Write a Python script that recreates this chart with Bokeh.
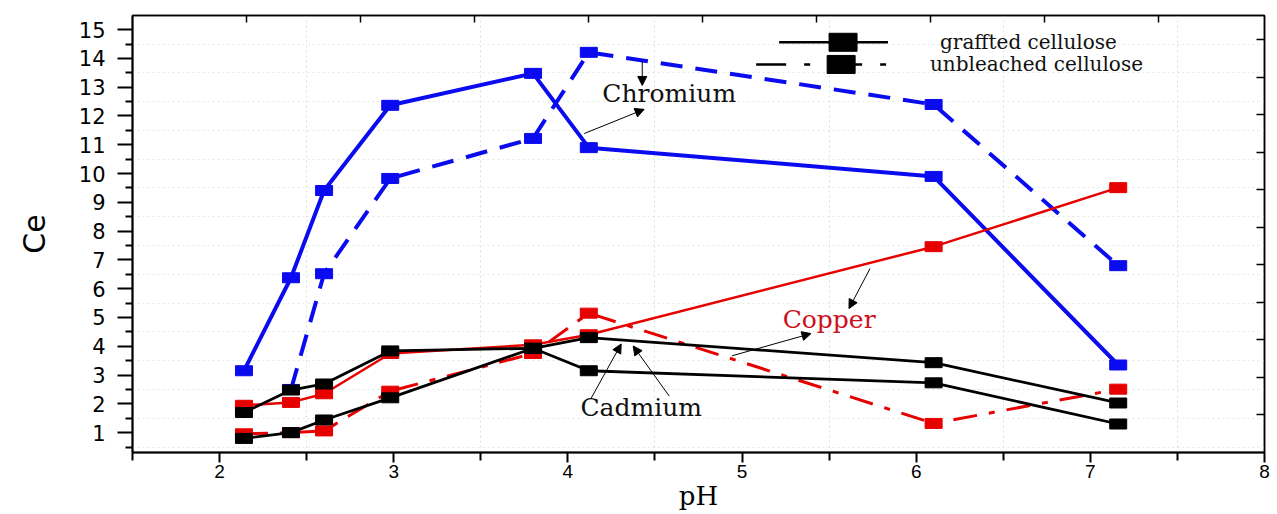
from bokeh.plotting import figure
from bokeh.models import Range1d, LinearAxis, FixedTicker, Arrow, NormalHead, Label
from bokeh.embed import file_html
from bokeh.resources import INLINE

# ---------------- data ----------------
ph = [2.14, 2.41, 2.60, 2.98, 3.80, 4.12, 6.10, 7.16]
cr_grafted = [3.15, 6.38, 9.41, 12.37, 13.48, 10.90, 9.90, 3.35]
ph_cr_unbl = [2.41, 2.60, 2.98, 3.80, 4.12, 6.10, 7.16]
cr_unbleached = [2.50, 6.52, 9.83, 11.22, 14.21, 12.40, 6.80]
cu_grafted = [1.95, 2.05, 2.35, 3.75, 4.05, 4.40, 7.46, 9.51]
cu_unbleached = [0.96, 1.00, 1.06, 2.44, 3.75, 5.15, 1.32, 2.51]
cd_grafted = [1.70, 2.48, 2.69, 3.84, 3.93, 3.15, 2.73, 1.30]
cd_unbleached = [0.80, 1.00, 1.44, 2.21, 3.93, 4.30, 3.43, 2.03]

x_ticks = [2, 3, 4, 5, 6, 7, 8]
x_minor = [1.5, 2.5, 3.5, 4.5, 5.5, 6.5, 7.5]
y_ticks = list(range(1, 16))
y_minor = [v + 0.5 for v in range(0, 16)]

legend_labels = ["graffted cellulose", "unbleached cellulose"]

BLUE = "#0b0bef"
RED = "#e60000"
BLACK = "#000000"

p = figure(width=1277, height=514, x_range=Range1d(1.5, 8), y_range=Range1d(0.31, 15.49),
           output_backend="svg", toolbar_location=None,
           min_border_left=132, min_border_right=13, min_border_top=15, min_border_bottom=62,
           background_fill_color="white", border_fill_color="white")

p.outline_line_color = "black"
p.outline_line_width = 1.5

xax = p.xaxis[0]
yax = p.yaxis[0]

# grids (minor, faint green dotted)
xax.ticker = FixedTicker(ticks=x_ticks, minor_ticks=x_minor)
yax.ticker = FixedTicker(ticks=y_ticks, minor_ticks=y_minor)
p.xgrid.grid_line_color = None
p.ygrid.grid_line_color = None
p.xgrid.minor_grid_line_color = "#cfe8cf"
p.xgrid.minor_grid_line_dash = "2 3"
p.ygrid.minor_grid_line_color = "#dfeadf"
p.ygrid.minor_grid_line_dash = "2 3"

# axes
for ax in (xax, yax):
    ax.axis_line_width = 2
    ax.major_tick_line_width = 2
    ax.minor_tick_line_width = 2
    ax.major_tick_in = 0
    ax.minor_tick_in = 0
    ax.axis_label_text_font_style = "normal"
    ax.axis_label_text_color = "black"
    ax.major_label_text_color = "black"

yax.major_tick_out = 15
yax.minor_tick_out = 7
yax.major_label_standoff = 12
yax.major_label_text_font = "DejaVu Sans"
yax.major_label_text_font_size = "21px"
yax.axis_label = "Ce"
yax.axis_label_text_font = "DejaVu Sans"
yax.axis_label_text_font_size = "30px"
yax.axis_label_standoff = 24

xax.major_tick_out = 10
xax.minor_tick_out = 8
xax.major_label_standoff = 2
xax.major_label_text_font = "Liberation Sans"
xax.major_label_text_font_size = "19px"
xax.axis_label = "pH"
xax.axis_label_text_font = "DejaVu Serif"
xax.axis_label_text_font_size = "26px"
xax.axis_label_standoff = 0

# right and top frame ticks (inward, unlabeled)
p.extra_y_ranges = {"r": Range1d(0, 11.65)}
p.extra_x_ranges = {"t": Range1d(0, 9.93)}
ra = LinearAxis(y_range_name="r", ticker=FixedTicker(ticks=[], minor_ticks=list(range(1, 12))),
                minor_tick_in=8, minor_tick_out=0, major_tick_in=0, major_tick_out=0,
                minor_tick_line_width=1.5, axis_line_width=1.5)
ta = LinearAxis(x_range_name="t", ticker=FixedTicker(ticks=[], minor_ticks=list(range(1, 10))),
                minor_tick_in=7, minor_tick_out=0, major_tick_in=0, major_tick_out=0,
                minor_tick_line_width=1.5, axis_line_width=1.5)
p.add_layout(ra, "right")
p.add_layout(ta, "above")

# ---------------- series ----------------
MW, MH = 17, 10
# chromium
p.line(ph_cr_unbl, cr_unbleached, line_color=BLUE, line_width=4, line_dash="22 13")
p.rect(ph_cr_unbl, cr_unbleached, width=MW, height=MH, width_units="screen", height_units="screen", color=BLUE)
p.line(ph, cr_grafted, line_color=BLUE, line_width=4)
p.rect(ph, cr_grafted, width=MW, height=MH, width_units="screen", height_units="screen", color=BLUE)
# copper
p.line(ph, cu_unbleached, line_color=RED, line_width=3, line_dash="24 12 6 12")
p.rect(ph, cu_unbleached, width=MW, height=MH, width_units="screen", height_units="screen", color=RED)
p.line(ph, cu_grafted, line_color=RED, line_width=2.5)
p.rect(ph, cu_grafted, width=MW, height=MH, width_units="screen", height_units="screen", color=RED)
# cadmium
p.line(ph, cd_unbleached, line_color=BLACK, line_width=2.8)
p.rect(ph, cd_unbleached, width=MW, height=MH, width_units="screen", height_units="screen", color=BLACK)
p.line(ph, cd_grafted, line_color=BLACK, line_width=2.8)
p.rect(ph, cd_grafted, width=MW, height=MH, width_units="screen", height_units="screen", color=BLACK)

# ---------------- legend (drawn) ----------------
leg_y = [14.56, 13.79]
p.line([5.213, 5.838], [leg_y[0], leg_y[0]], line_color=BLACK, line_width=2.5)
p.rect([5.580], [leg_y[0]], width=28, height=18, width_units="screen", height_units="screen", color=BLACK)
p.line([5.081, 5.930], [leg_y[1], leg_y[1]], line_color=BLACK, line_width=2.5, line_dash="30 18 6 22")
p.rect([5.569], [leg_y[1]], width=28, height=18, width_units="screen", height_units="screen", color=BLACK)
p.add_layout(Label(x=6.137, y=leg_y[0], text=legend_labels[0], text_font="DejaVu Serif",
                   text_font_size="20px", text_baseline="middle", text_color="#111111"))
p.add_layout(Label(x=6.079, y=leg_y[1], text=legend_labels[1], text_font="DejaVu Serif",
                   text_font_size="20px", text_baseline="middle", text_color="#111111"))

# ---------------- annotations ----------------
def arrow(x0, y0, x1, y1):
    p.add_layout(Arrow(end=NormalHead(size=9, fill_color="black", line_color="black"),
                       x_start=x0, y_start=y0, x_end=x1, y_end=y1,
                       line_color="black", line_width=1))

p.add_layout(Label(x=4.582, y=12.78, text="Chromium", text_font="DejaVu Serif", text_font_size="25px",
                   text_align="center", text_baseline="middle", text_color="#111111"))
arrow(4.427, 13.90, 4.427, 13.06)
arrow(4.094, 11.39, 4.438, 12.23)

p.add_layout(Label(x=5.50, y=4.92, text="Copper", text_font="DejaVu Serif", text_font_size="25px",
                   text_align="center", text_baseline="middle", text_color="#cc1020"))
arrow(5.735, 6.70, 5.614, 5.31)
arrow(4.943, 3.67, 5.396, 4.44)

p.add_layout(Label(x=4.421, y=1.89, text="Cadmium", text_font="DejaVu Serif", text_font_size="25px",
                   text_align="center", text_baseline="middle", text_color="#111111"))
arrow(4.134, 2.20, 4.306, 4.08)
arrow(4.582, 2.27, 4.375, 4.01)

open("out.html", "w").write(file_html(p, INLINE))
